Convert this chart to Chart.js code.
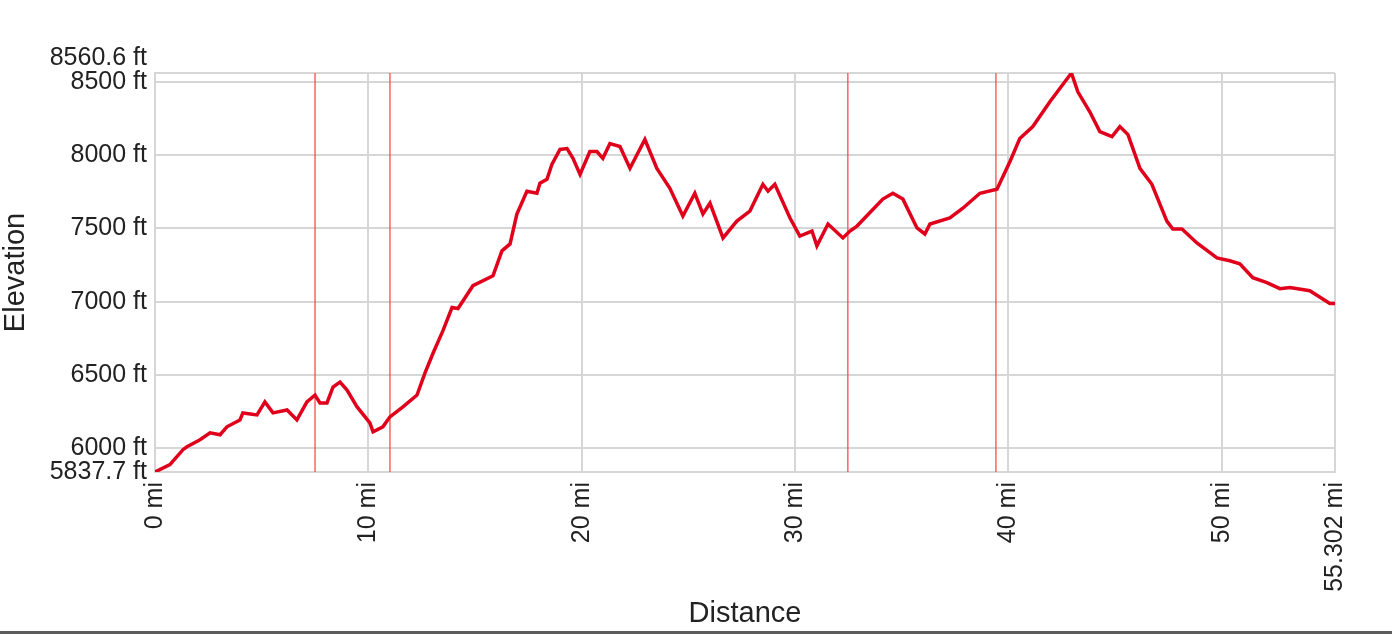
<!DOCTYPE html>
<html>
<head>
<meta charset="utf-8">
<script src="https://cdn.jsdelivr.net/npm/chart.js@4"></script>
<style>
  body { margin: 0; background: #fff; }
  canvas { display: block; }
</style>
</head>
<body>
<canvas id="profile" width="1392" height="634"></canvas>
<script>
// distance along the route (mi) and elevation (ft)
const distance = [
  0.00, 0.70, 1.31, 1.50, 2.11, 2.58, 3.05, 3.37, 3.98, 4.12,
  4.78, 5.15, 5.53, 6.19, 6.65, 7.12, 7.50, 7.73, 8.06, 8.34,
  8.67, 9.00, 9.47, 10.07, 10.22, 10.68, 11.01, 11.62, 12.28, 12.65,
  13.03, 13.50, 13.92, 14.20, 14.90, 15.84, 16.26, 16.64, 16.96, 17.43,
  17.90, 18.04, 18.37, 18.60, 18.98, 19.31, 19.59, 19.92, 20.38, 20.71,
  20.99, 21.32, 21.79, 22.26, 22.96, 23.52, 24.13, 24.74, 25.30, 25.68,
  26.01, 26.62, 27.27, 27.88, 28.49, 28.73, 29.05, 29.76, 30.22, 30.79,
  31.02, 31.54, 32.24, 32.57, 32.90, 34.11, 34.58, 35.05, 35.71, 36.08,
  36.32, 37.25, 37.86, 38.66, 39.46, 40.07, 40.53, 41.14, 41.94, 42.95,
  43.25, 43.81, 44.28, 44.85, 45.22, 45.60, 46.16, 46.72, 47.42, 47.70,
  48.13, 48.83, 49.77, 50.37, 50.84, 51.45, 52.11, 52.72, 53.19, 54.12,
  55.06, 55.302
]
const elevation = [
  5837.7, 5888, 5990, 6010, 6058, 6105, 6092, 6146, 6193, 6241,
  6227, 6316, 6241, 6261, 6193, 6316, 6363, 6309, 6309, 6417,
  6451, 6397, 6282, 6173, 6112, 6146, 6214, 6282, 6363, 6512,
  6648, 6804, 6960, 6953, 7109, 7177, 7347, 7394, 7598, 7754,
  7740, 7808, 7835, 7937, 8039, 8045, 7978, 7869, 8025, 8025,
  7978, 8079, 8059, 7910, 8107, 7910, 7774, 7584, 7740, 7598,
  7672, 7435, 7550, 7618, 7801, 7754, 7801, 7571, 7448, 7482,
  7381, 7530, 7435, 7482, 7516, 7700, 7740, 7700, 7503, 7462,
  7530, 7571, 7638, 7740, 7767, 7957, 8113, 8195, 8364, 8560.6,
  8432, 8296, 8161, 8127, 8195, 8140, 7910, 7801, 7550, 7496,
  7496, 7401, 7299, 7279, 7259, 7164, 7130, 7089, 7096, 7075,
  6987, 6987
]
// red waypoint markers (mi)
const markers = [7.50, 11.01, 32.47, 39.41]
const yTicks = [5837.7, 6000, 6500, 7000, 7500, 8000, 8500, 8560.6]
const xTicks = [0, 10, 20, 30, 40, 50, 55.302]
const yMin = 5837.7, yMax = 8560.6
const xMin = 0, xMax = 55.302

Chart.defaults.font.family = '"Liberation Sans", Arial, sans-serif'
Chart.defaults.color = '#222'

const gridColor = '#d6d6d6'

const markerSets = markers.map(m => ({
  data: [{ x: m, y: yMin }, { x: m, y: yMax }],
  borderColor: 'rgba(255, 70, 70, 0.85)',
  borderWidth: 1.5,
  pointRadius: 0,
  order: 2
}))

const bottomBar = {
  id: 'bottomBar',
  afterDraw(chart) {
    const ctx = chart.ctx
    ctx.save()
    ctx.fillStyle = '#5c5c5c'
    ctx.fillRect(0, 631, chart.width, 3)
    ctx.restore()
  }
}

new Chart(document.getElementById('profile').getContext('2d'), {
  type: 'line',
  data: {
    datasets: [
      {
        data: distance.map((d, i) => ({ x: d, y: elevation[i] })),
        borderColor: '#e0001b',
        borderWidth: 3.5,
        borderJoinStyle: 'miter',
        pointRadius: 0,
        tension: 0,
        order: 1
      },
      ...markerSets
    ]
  },
  options: {
    responsive: false,
    animation: false,
    devicePixelRatio: 1,
    layout: { padding: { top: 73, right: 57, bottom: 0, left: 0 } },
    plugins: {
      legend: { display: false },
      tooltip: { enabled: false }
    },
    scales: {
      x: {
        type: 'linear',
        min: xMin,
        max: xMax,
        afterBuildTicks: s => { s.ticks = xTicks.map(v => ({ value: v })) },
        afterFit: s => { s.height = 162 },
        grid: { color: gridColor, lineWidth: 2, drawTicks: false },
        border: { color: gridColor, width: 2 },
        ticks: {
          autoSkip: false,
          minRotation: 90,
          maxRotation: 90,
          padding: 10,
          font: { size: 25 },
          color: '#222',
          callback: v => v + ' mi'
        },
        title: {
          display: true,
          text: 'Distance',
          font: { size: 29, lineHeight: 1 },
          color: '#222',
          padding: { top: 0, bottom: 6 }
        }
      },
      y: {
        type: 'linear',
        min: yMin,
        max: yMax,
        afterBuildTicks: s => { s.ticks = yTicks.map(v => ({ value: v })) },
        afterFit: s => { s.width = 155 },
        grid: { color: gridColor, lineWidth: 2, drawTicks: false },
        border: { color: gridColor, width: 2 },
        ticks: {
          autoSkip: false,
          padding: 8,
          font: { size: 25 },
          color: '#222',
          // top label sits above the 8500 line in the original, push it up a line
          callback: v => v === yMax ? [v + ' ft', ''] : v + ' ft'
        },
        title: {
          display: true,
          text: 'Elevation',
          font: { size: 29, lineHeight: 1 },
          color: '#222',
          padding: { top: 1, bottom: 0 }
        }
      }
    }
  },
  plugins: [bottomBar]
})
</script>
</body>
</html>
